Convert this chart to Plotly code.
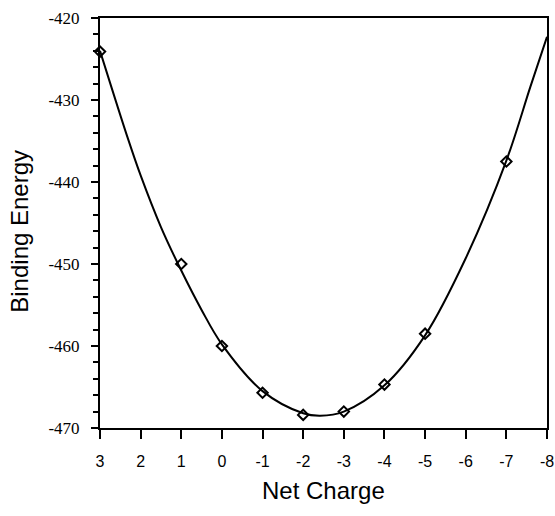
import plotly.graph_objects as go

# Measured data points (net charge vs binding energy)
charge = [3, 1, 0, -1, -2, -3, -4, -5, -7]
energy = [-424.1, -450.0, -460.0, -465.7, -468.4, -468.0, -464.7, -458.5, -437.5]

# Fitted curve
curve_charge = [3, 2.3, 2, 1.5, 1, 0.5, 0, -1, -2, -2.42, -3, -4, -5, -6, -7, -7.59, -8]
curve_energy = [-424.0, -434.9, -439.2, -445.5, -450.8, -455.6, -459.8, -465.5, -468.2,
                -468.5, -468.0, -464.8, -458.7, -449.3, -437.4, -428.4, -422.3]

x_ticks = [3, 2, 1, 0, -1, -2, -3, -4, -5, -6, -7, -8]
y_ticks = [-470, -460, -450, -440, -430, -420]

fig = go.Figure()
fig.add_trace(go.Scatter(
    x=curve_charge, y=curve_energy, mode="lines",
    line=dict(color="black", width=2, shape="spline", smoothing=1.0),
    hoverinfo="skip", showlegend=False, cliponaxis=True,
))
fig.add_trace(go.Scatter(
    x=charge, y=energy, mode="markers",
    marker=dict(symbol="diamond-open", size=8, color="black", line=dict(width=2, color="black")),
    showlegend=False, cliponaxis=False,
))

fig.update_layout(
    width=555, height=516,
    margin=dict(l=100, r=8, t=18, b=88, autoexpand=False),
    paper_bgcolor="white", plot_bgcolor="white",
    font=dict(family="Liberation Sans, Arial, sans-serif", color="black"),
    xaxis=dict(
        range=[3, -8], autorange=False, automargin=False,
        tickmode="array", tickvals=x_ticks, ticktext=[str(v) for v in x_ticks],
        ticks="outside", ticklen=9, tickwidth=1.5, tickcolor="black",
        showline=True, linecolor="black", linewidth=2, mirror=True,
        showgrid=False, zeroline=False,
        tickfont=dict(family="Liberation Sans, Arial, sans-serif", size=16, color="black"),
        ticklabelstandoff=9,
    ),
    yaxis=dict(
        range=[-470, -420], autorange=False, automargin=False,
        tickmode="array", tickvals=y_ticks, ticktext=[str(v) for v in y_ticks],
        ticks="outside", ticklen=7, tickwidth=1.5, tickcolor="black",
        minor=dict(ticks="outside", ticklen=5, tickwidth=1.5, tickcolor="black", dtick=2, showgrid=False),
        showline=True, linecolor="black", linewidth=2, mirror=True,
        showgrid=False, zeroline=False,
        tickfont=dict(family="Liberation Serif, Times New Roman, serif", size=17, color="black"),
        ticklabelstandoff=8,
    ),
    annotations=[
        dict(text="Net Charge", xref="paper", yref="paper", x=0.5, y=-0.152,
             xanchor="center", yanchor="middle", showarrow=False,
             font=dict(size=24, family="Liberation Sans, Arial, sans-serif", color="black")),
        dict(text="Binding Energy", xref="paper", yref="paper", x=-0.18, y=0.48,
             xanchor="center", yanchor="middle", showarrow=False, textangle=-90,
             font=dict(size=24, family="Liberation Sans, Arial, sans-serif", color="black")),
    ],
)

fig.write_html("out.html")
